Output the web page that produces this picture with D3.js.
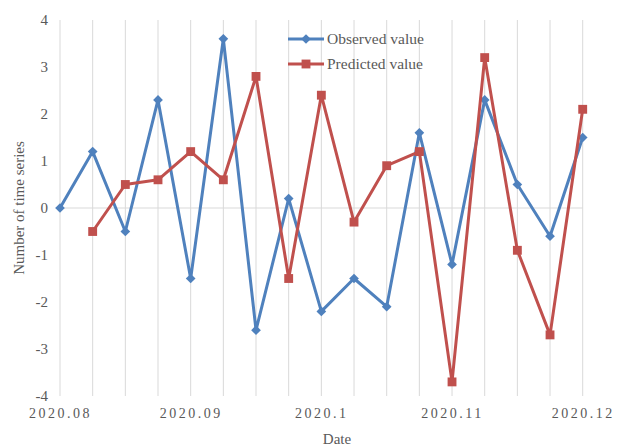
<!DOCTYPE html>
<html>
<head>
<meta charset="utf-8">
<script src="https://cdn.jsdelivr.net/npm/d3@7"></script>
<style>
  html, body { margin: 0; padding: 0; background: #fff; }
  text { font-family: "Liberation Serif", "Times New Roman", serif; fill: #595959; }
</style>
</head>
<body>
<svg id="chart" width="620" height="446"></svg>
<script>
// Series: one value per period (index 0..16); predicted starts at index 1
const observed  = [0, 1.2, -0.5, 2.3, -1.5, 3.6, -2.6, 0.2, -2.2, -1.5, -2.1, 1.6, -1.2, 2.3, 0.5, -0.6, 1.5];
const predicted = [null, -0.5, 0.5, 0.6, 1.2, 0.6, 2.8, -1.5, 2.4, -0.3, 0.9, 1.2, -3.7, 3.2, -0.9, -2.7, 2.1];
const dateLabels = ["2020.08", "2020.09", "2020.1", "2020.11", "2020.12"];
const dateLabelIdx = [0, 4, 8, 12, 16];
const yTicks = [-4, -3, -2, -1, 0, 1, 2, 3, 4];
const seriesNames = ["Observed value", "Predicted value"];
const colors = ["#4F81BD", "#C0504D"];

const svg = d3.select("#chart");
const plot = { left: 60, right: 582.7, top: 20, bottom: 396 };
const serif = "Liberation Serif, Times New Roman, serif";

const idx = d3.range(observed.length);
const x = d3.scaleLinear().domain([0, observed.length - 1]).range([plot.left, plot.right]);
const y = d3.scaleLinear().domain([-4, 4]).range([plot.bottom, plot.top]);

// vertical gridlines at every period
svg.append("g").selectAll("line").data(idx).join("line")
  .attr("x1", d => x(d)).attr("x2", d => x(d))
  .attr("y1", plot.top).attr("y2", plot.bottom)
  .attr("stroke", "#d9d9d9").attr("stroke-width", 1);

// zero line
svg.append("line")
  .attr("x1", plot.left).attr("x2", plot.right)
  .attr("y1", y(0)).attr("y2", y(0))
  .attr("stroke", "#d9d9d9").attr("stroke-width", 1);

// y axis labels (plain hyphen for negatives)
const yAxis = d3.axisLeft(y).tickValues(yTicks).tickSize(0).tickPadding(0).tickFormat(d => String(d));
const gy = svg.append("g").attr("transform", `translate(${plot.left - 12},0)`).call(yAxis)
  .attr("font-family", serif).attr("font-size", 15);
gy.select(".domain").remove();
gy.selectAll("text").attr("fill", "#595959");

// x axis labels
const xAxis = d3.axisBottom(x).tickValues(dateLabelIdx).tickSize(0).tickPadding(0)
  .tickFormat((d, i) => dateLabels[i]);
const gx = svg.append("g").attr("transform", `translate(0,${plot.bottom + 12})`).call(xAxis)
  .attr("font-family", serif).attr("font-size", 14);
gx.select(".domain").remove();
gx.selectAll("text").attr("fill", "#595959").style("letter-spacing", "2.5px");

// axis titles
svg.append("text")
  .attr("transform", `translate(24,${(plot.top + plot.bottom) / 2}) rotate(-90)`)
  .attr("text-anchor", "middle").style("font-size", "15px")
  .text("Number of time series");
svg.append("text")
  .attr("x", 337).attr("y", 444)
  .attr("text-anchor", "middle").style("font-size", "15px")
  .text("Date");

const line = d3.line().defined(d => d[1] != null).x(d => x(d[0])).y(d => y(d[1]));
const diamond = d3.symbol().type(d3.symbolDiamond2).size(60);
const square = d3.symbol().type(d3.symbolSquare2).size(100);

function drawSeries(values, color, sym) {
  const pts = values.map((v, i) => [i, v]);
  svg.append("path").datum(pts)
    .attr("d", line).attr("fill", "none")
    .attr("stroke", color).attr("stroke-width", 3).attr("stroke-linejoin", "round");
  svg.append("g").selectAll("path").data(pts.filter(p => p[1] != null)).join("path")
    .attr("transform", p => `translate(${x(p[0])},${y(p[1])})`)
    .attr("d", sym).attr("fill", color);
}
drawSeries(observed, colors[0], diamond);
drawSeries(predicted, colors[1], square);

// legend
const legend = svg.append("g");
[diamond, square].forEach((sym, i) => {
  const ly = 39 + i * 25;
  legend.append("line").attr("x1", 288).attr("x2", 324).attr("y1", ly).attr("y2", ly)
    .attr("stroke", colors[i]).attr("stroke-width", 3);
  legend.append("path").attr("transform", `translate(306,${ly})`).attr("d", sym).attr("fill", colors[i]);
  legend.append("text").attr("x", 327).attr("y", ly + 5).style("font-size", "15.5px").text(seriesNames[i]);
});
</script>
</body>
</html>
